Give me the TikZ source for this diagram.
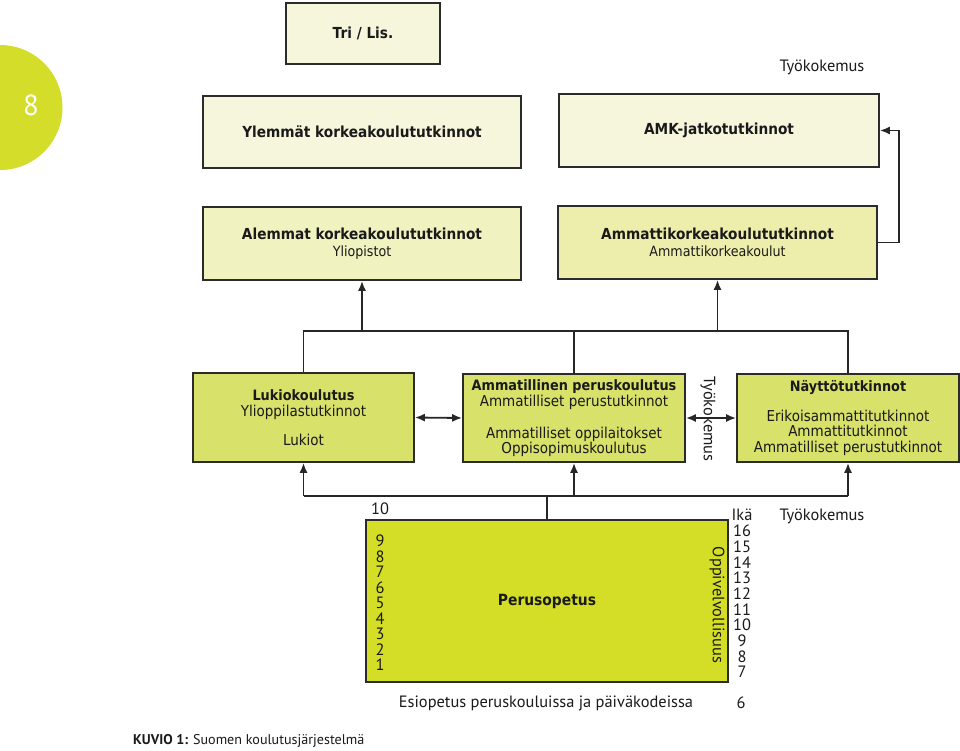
\documentclass[tikz,border=0pt]{standalone}
\usepackage{fontspec}
\setmainfont{DejaVu Sans}
\newfontfamily\boxfont[FakeStretch=0.9]{DejaVu Sans}
\newfontfamily\labfont{PT Sans}
\usetikzlibrary{arrows.meta}
\definecolor{cream}{HTML}{F6F6DC}
\definecolor{palegreen}{HTML}{F0F2C0}
\definecolor{amkcol}{HTML}{EEEEAC}
\definecolor{midgreen}{HTML}{D8E169}
\definecolor{strong}{HTML}{D4DE27}
\definecolor{circcol}{HTML}{D4DD2A}
\definecolor{edgecol}{HTML}{2B2B2B}
\definecolor{txt}{HTML}{1A1A1A}
\begin{document}
\begin{tikzpicture}[x=1pt,y=-1pt,
  box/.style={draw=edgecol, line width=1.7pt, inner sep=0pt, align=center, text=txt},
  topbox/.style={box, font=\boxfont\fontsize{14}{16.5}\selectfont},
  midbox/.style={box, font=\boxfont\fontsize{15}{15}\selectfont},
  conn/.style={draw=black!85, line width=1.8pt},
  tip/.style={-{Latex[length=10pt,width=8pt]}},
  dtip/.style={{Latex[length=10pt,width=8pt]}-{Latex[length=10pt,width=8pt]}},
  lab/.style={inner sep=0pt, text=txt, font=\labfont\fontsize{16.4}{18}\selectfont}
]
\useasboundingbox (0,0) rectangle (960,750);
\fill[white] (0,0) rectangle (960,750);

% circle with page number
\node[circle, fill=circcol, minimum size=125pt, inner sep=0pt] (circ) at (0,107.5) {};
\node[text=white, inner sep=0pt, font=\labfont\fontsize{29}{32}\selectfont] (eight) at (31,105) {8};

% top boxes
\node[topbox, fill=cream, minimum width=154pt, minimum height=61pt] (tri) at (363,33.5)
  {\fontsize{15.2}{16.5}\selectfont\bfseries Tri / Lis.};
\node[topbox, fill=cream, minimum width=318pt, minimum height=72pt] (ylem) at (362,132)
  {\fontsize{15.2}{16.5}\selectfont\bfseries Ylemmät korkeakoulututkinnot};
\node[topbox, fill=cream, minimum width=320pt, minimum height=73pt] (amkj) at (719,130.5)
  {\fontsize{15.2}{16.5}\selectfont\bfseries AMK-jatkotutkinnot};
\node[lab] (tk1) at (822,67) {Työkokemus};

\node[topbox, fill=palegreen, minimum width=318pt, minimum height=73pt] (alem) at (362,243.5)
  {{\fontsize{15.2}{16.5}\selectfont\bfseries Alemmat korkeakoulututkinnot}\\
   {\fontsize{14.1}{16.5}\selectfont Yliopistot}};
\node[topbox, fill=amkcol, minimum width=319pt, minimum height=73pt] (amk) at (717.5,242.5)
  {{\fontsize{15.2}{16.5}\selectfont\bfseries Ammattikorkeakoulututkinnot}\\
   {\fontsize{14.1}{16.5}\selectfont Ammattikorkeakoulut}};

% middle boxes
\node[midbox, fill=midgreen, minimum width=221pt, minimum height=89pt] (luk) at (303.5,417.5)
  {{\fontsize{14.3}{15}\selectfont\bfseries Lukiokoulutus}\\[1pt]
   Ylioppilastutkinnot\\[14pt]
   Lukiot};
\node[midbox, fill=midgreen, minimum width=222pt, minimum height=88pt] (amm) at (574,418)
  {{\fontsize{14.3}{15}\selectfont\bfseries Ammatillinen peruskoulutus}\\[1pt]
   Ammatilliset perustutkinnot\\[17pt]
   Ammatilliset oppilaitokset\\
   Oppisopimuskoulutus};
\node[midbox, fill=midgreen, minimum width=222pt, minimum height=88pt] (nay) at (848,418)
  {{\fontsize{14.3}{15}\selectfont\bfseries Näyttötutkinnot}\\[15pt]
   Erikoisammattitutkinnot\\[0.5pt]
   Ammattitutkinnot\\[0.5pt]
   Ammatilliset perustutkinnot};
\node[lab, rotate=-90] (tk2) at (708,419) {Työkokemus};

% basic education
\node[box, fill=strong, minimum width=362pt, minimum height=162pt,
      font=\boxfont\fontsize{15.4}{17}\selectfont\bfseries] (per) at (547,601) {Perusopetus};
\node[lab] (g10) at (380,509) {10};
\foreach \n in {1,...,9}
  \node[lab] (g\n) at (380,{541+(9-\n)*15.5}) {\n};
\node[lab, rotate=-90] (opv) at (717,605) {Oppivelvollisuus};
\node[lab] (ika) at (742,515) {Ikä};
\foreach \n in {7,...,16}
  \node[lab] (a\n) at (742,{531+(16-\n)*15.67}) {\n};
\node[lab] (tk3) at (822,516) {Työkokemus};
\node[lab] (esi) at (546,703) {Esiopetus peruskouluissa ja päiväkodeissa};
\node[lab] (a6) at (741,703) {6};
\node[inner sep=0pt, anchor=west, text=txt, font=\labfont\fontsize{14.1}{16}\selectfont] (cap) at (133,741)
  {\textbf{KUVIO 1:} Suomen koulutusjärjestelmä};

% connectors
\coordinate (hub) at (574,331);
\coordinate (low) at (547,496);
\draw[conn] (luk.north) |- (hub) -| (nay.north);
\draw[conn] (amm.north) -- (amm.north |- hub);
\draw[conn, tip] (alem.south |- hub) -- (alem.south);
\draw[conn, tip] (amk.south |- hub) -- (amk.south);

\draw[conn] (luk.south |- low) -- (nay.south |- low);
\draw[conn, tip] (luk.south |- low) -- (luk.south);
\draw[conn, tip] (amm.south |- low) -- (amm.south);
\draw[conn, tip] (nay.south |- low) -- (nay.south);
\draw[conn] (low) -- (per.north);

\draw[conn, dtip] (luk.east) -- (amm.west);
\draw[conn, dtip] (amm.east) -- (nay.west);

\draw[conn, tip] (amk.east) -- ++(21,0) |- (amkj.east);
\end{tikzpicture}
\end{document}
